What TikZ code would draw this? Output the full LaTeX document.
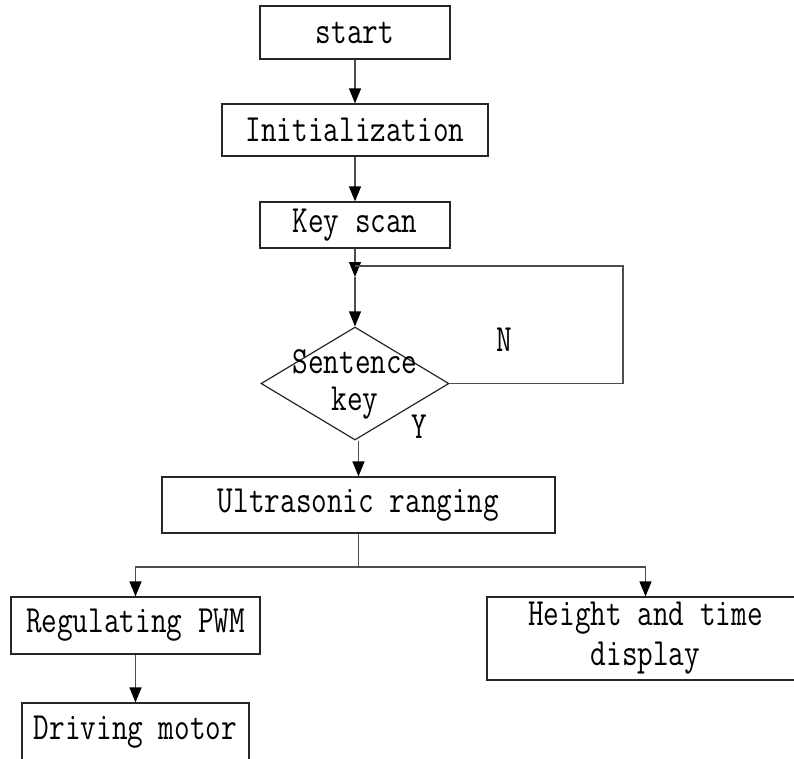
\documentclass[tikz,border=0pt]{standalone}
\usepackage{graphicx}
\usetikzlibrary{arrows.meta,shapes.geometric}
\newcommand\sq[1]{\scalebox{0.82}[1.04]{#1}}
\begin{document}
\begin{tikzpicture}[x=1pt,y=-1pt,
  box/.style={draw=black!85,line width=1.2pt,rectangle,inner sep=0pt,font=\ttfamily\fontsize{37}{40}\selectfont,align=center},
  txt/.style={inner sep=0pt,font=\ttfamily\fontsize{37}{40}\selectfont},
  conn/.style={draw=black!70,line width=1.2pt},
  arr/.style={conn,-{Triangle[width=12pt,length=15pt,color=black]}}]
\useasboundingbox (0,0) rectangle (794,758);
\clip (0,0) rectangle (794,758);
\fill[white] (0,0) rectangle (794,758);
\node[box,minimum width=190pt,minimum height=53pt] (start) at (355,32.5) {\sq{start}};
\node[box,minimum width=266pt,minimum height=52pt] (init) at (355,130) {\sq{Initialization}};
\node[box,minimum width=190pt,minimum height=46pt] (key) at (355,225) {\sq{Key scan}};
\node[diamond,draw=black!85,line width=1.2pt,minimum width=188pt,minimum height=113pt,inner sep=0pt] (dec) at (355,383.5) {};
\node[txt,anchor=base] (dt1) at (355,373) {\sq{Sentence}};
\node[txt,anchor=base] (dt2) at (355,410) {\sq{key}};
\node[txt] (nlab) at (504,340) {\sq{N}};
\node[txt] (ylab) at (419,427) {\sq{Y}};
\node[box,minimum width=393pt,minimum height=56pt] (ultra) at (358.5,505) {\sq{Ultrasonic ranging}};
\node[box,minimum width=249pt,minimum height=57pt] (reg) at (135.5,625.5) {\sq{Regulating PWM}};
\node[box,minimum width=227pt,minimum height=58pt] (drive) at (135.5,732) {\sq{Driving motor}};
\node[box,minimum width=317pt,minimum height=83pt] (disp) at (645.5,638.5) {\sq{Height and time}\\\sq{display}};
\coordinate (j) at (355,277);
\coordinate (lr) at (623,266);
\coordinate (lj) at (355,266);
\coordinate (b) at (358.5,567);
\draw[arr] (start) -- (init);
\draw[arr] (init) -- (key);
\draw[arr] (key) -- (j);
\draw[arr] (j) -- (dec);
\draw[conn] (dec.east) -| (lr) -- (lj);
\draw[arr] (ultra.north |- dec.south) -- (ultra.north);
\draw[conn] (ultra.south) -- (b);
\draw[arr] (b) -| (reg.north);
\draw[arr] (b) -| (disp.north);
\draw[arr] (reg) -- (drive);
\end{tikzpicture}
\end{document}
